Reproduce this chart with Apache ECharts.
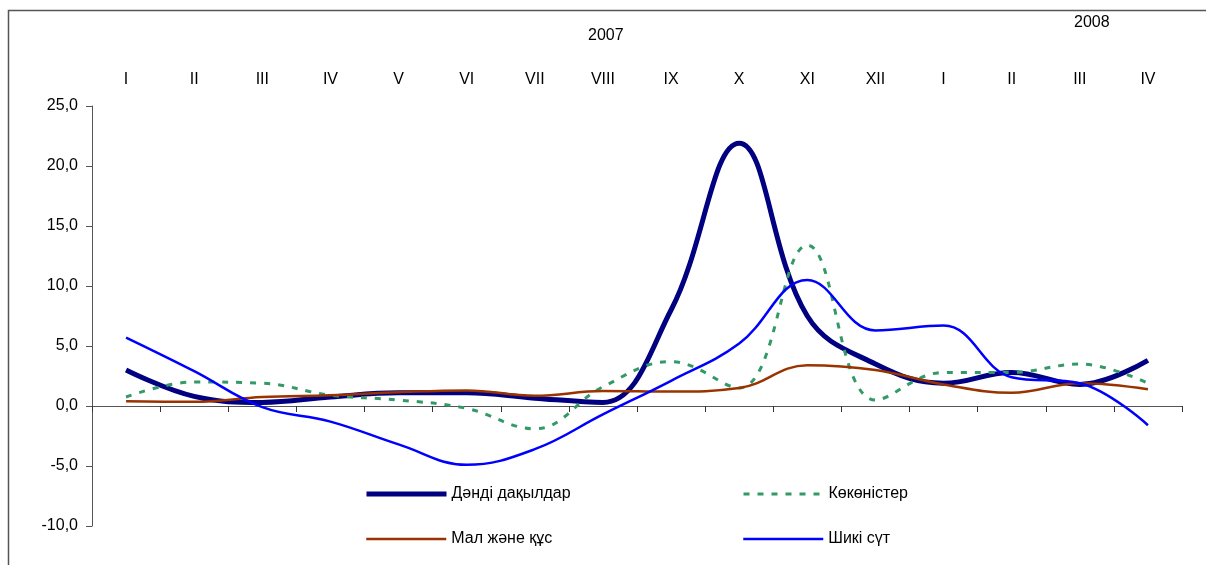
<!DOCTYPE html>
<html>
<head>
<meta charset="utf-8">
<script src="https://cdn.jsdelivr.net/npm/echarts@6/dist/echarts.min.js"></script>
<style>html,body{margin:0;padding:0;background:#fff}#c{width:1206px;height:565px}</style>
</head>
<body>
<div id="c"></div>
<script>
var categories = ['I','II','III','IV','V','VI','VII','VIII','IX','X','XI','XII','I','II','III','IV'];
var yearLabels = ['2007','2008'];
var seriesNames = ['Дәнді дақылдар','Көкөністер','Мал және құс','Шикі сүт'];
var grain = [3.0, 0.8, 0.3, 0.75, 1.1, 1.1, 0.65, 0.3, 8.0, 21.9, 7.5, 3.5, 1.9, 2.8, 1.8, 3.8];
var vegetables = [0.75, 2.0, 1.9, 0.9, 0.5, -0.2, -1.9, 1.6, 3.7, 1.5, 13.4, 0.5, 2.8, 2.8, 3.5, 1.9];
var livestock = [0.4, 0.35, 0.75, 0.9, 1.15, 1.3, 0.85, 1.25, 1.2, 1.5, 3.4, 3.0, 1.8, 1.1, 1.9, 1.4];
var milk = [5.7, 2.9, -0.1, -1.3, -3.2, -4.9, -3.6, -0.7, 2.1, 5.2, 10.5, 6.3, 6.7, 2.4, 1.9, -1.6];

var FONT = 'Liberation Sans';
var FS = 16;
var chart = echarts.init(document.getElementById('c'), null, {renderer: 'canvas'});

function legendItem(name, left, top, lw) {
  return {
    data: [name], left: left, top: top, orient: 'horizontal',
    itemWidth: 80, itemHeight: 14, itemGap: 0, padding: 0,
    itemStyle: {opacity: 0},
    lineStyle: {width: lw},
    textStyle: {fontFamily: FONT, fontSize: FS, color: '#000'},
    selectedMode: false
  };
}

var option = {
  animation: false,
  backgroundColor: '#fff',
  grid: {left: 92, right: 24, top: 106, bottom: 39, containLabel: false},
  xAxis: [
    {
      type: 'category', data: categories, boundaryGap: true, position: 'bottom',
      axisLine: {onZero: true, lineStyle: {color: '#555', width: 1}},
      axisTick: {show: true, interval: 0, length: 6, inside: false, alignWithLabel: false, lineStyle: {color: '#333'}},
      axisLabel: {show: false},
      splitLine: {show: false}
    },
    {
      type: 'category', data: categories, boundaryGap: true, position: 'top',
      axisLine: {show: false}, axisTick: {show: false},
      axisLabel: {show: true, interval: 0, margin: 18, fontFamily: FONT, fontSize: FS, color: '#000'},
      splitLine: {show: false}
    }
  ],
  yAxis: {
    type: 'value', min: -10, max: 25, interval: 5,
    axisLine: {show: true, lineStyle: {color: '#555'}},
    axisTick: {show: true, length: 6, lineStyle: {color: '#555'}},
    splitLine: {show: false},
    axisLabel: {
      margin: 14, fontFamily: FONT, fontSize: FS, color: '#000',
      formatter: function (v) { return v.toFixed(1).replace('.', ','); }
    }
  },
  legend: [
    legendItem(seriesNames[0], 364, 486, 5),
    legendItem(seriesNames[1], 742, 486, 3),
    legendItem(seriesNames[2], 365, 531, 2.5),
    legendItem(seriesNames[3], 742, 531, 2.5)
  ],
  graphic: [
    {type: 'rect', left: 6, top: 8, shape: {width: 1260, height: 620}, style: {fill: 'none', stroke: '#555', lineWidth: 1.5}, silent: true},
    {type: 'text', left: 588, top: 28, style: {text: yearLabels[0], font: FS + 'px "' + FONT + '"', fill: '#000'}},
    {type: 'text', left: 1074, top: 15, style: {text: yearLabels[1], font: FS + 'px "' + FONT + '"', fill: '#000'}}
  ],
  series: [
    {name: seriesNames[0], type: 'line', data: grain, smooth: 0.4, symbol: 'none',
      lineStyle: {color: '#000080', width: 5}, itemStyle: {color: '#000080'}},
    {name: seriesNames[1], type: 'line', data: vegetables, smooth: 0.4, symbol: 'none',
      lineStyle: {color: '#339966', width: 3, type: [6, 8]}, itemStyle: {color: '#339966'}},
    {name: seriesNames[2], type: 'line', data: livestock, smooth: 0.4, symbol: 'none',
      lineStyle: {color: '#993300', width: 2.5}, itemStyle: {color: '#993300'}},
    {name: seriesNames[3], type: 'line', data: milk, smooth: 0.4, symbol: 'none',
      lineStyle: {color: '#0000FF', width: 2.5}, itemStyle: {color: '#0000FF'}}
  ]
};
chart.setOption(option);
</script>
</body>
</html>
